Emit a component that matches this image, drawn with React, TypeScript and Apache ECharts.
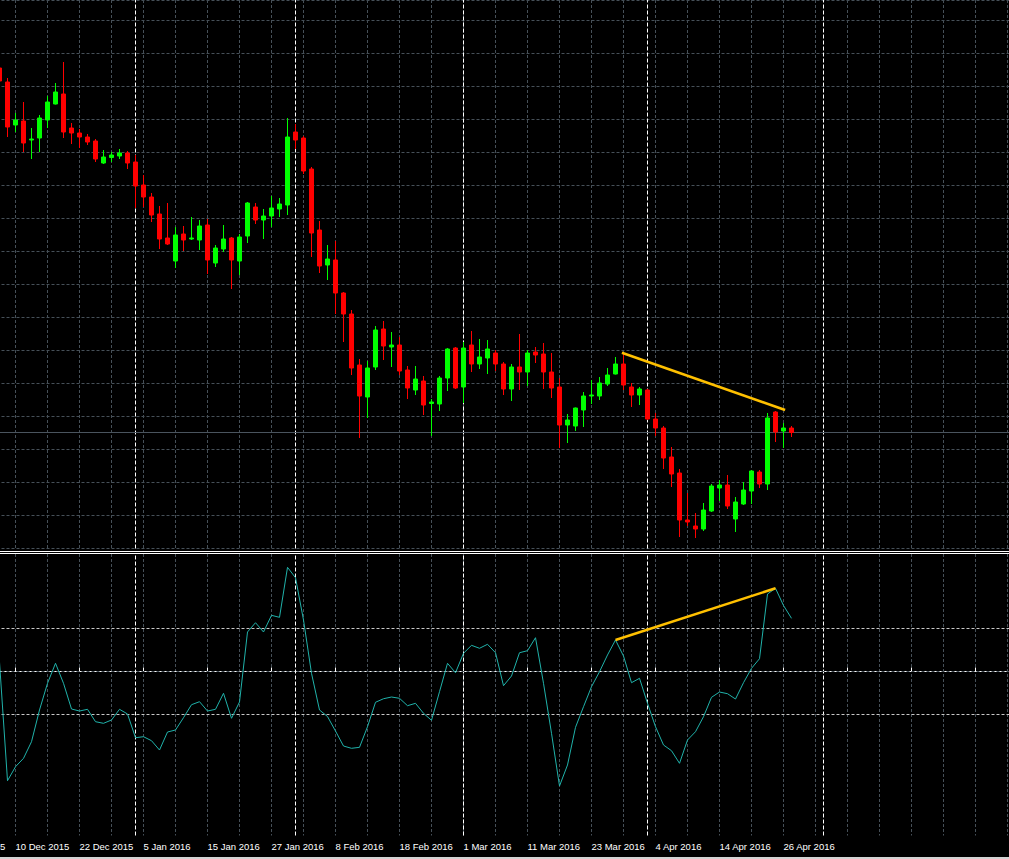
import { useEffect, useRef } from 'react';
import * as echarts from 'echarts';

// Trading days, first entry sits 8 bars left of "10 Dec 2015" (off-screen)
const dates: string[] = [
  '30 Nov 2015', '1 Dec 2015', '2 Dec 2015', '3 Dec 2015', '4 Dec 2015', '7 Dec 2015', '8 Dec 2015', '9 Dec 2015',
  '10 Dec 2015', '11 Dec 2015', '14 Dec 2015', '15 Dec 2015', '16 Dec 2015', '17 Dec 2015', '18 Dec 2015', '21 Dec 2015',
  '22 Dec 2015', '23 Dec 2015', '24 Dec 2015', '28 Dec 2015', '29 Dec 2015', '30 Dec 2015', '31 Dec 2015', '4 Jan 2016',
  '5 Jan 2016', '6 Jan 2016', '7 Jan 2016', '8 Jan 2016', '11 Jan 2016', '12 Jan 2016', '13 Jan 2016', '14 Jan 2016',
  '15 Jan 2016', '18 Jan 2016', '19 Jan 2016', '20 Jan 2016', '21 Jan 2016', '22 Jan 2016', '25 Jan 2016', '26 Jan 2016',
  '27 Jan 2016', '28 Jan 2016', '29 Jan 2016', '1 Feb 2016', '2 Feb 2016', '3 Feb 2016', '4 Feb 2016', '5 Feb 2016',
  '8 Feb 2016', '9 Feb 2016', '10 Feb 2016', '11 Feb 2016', '12 Feb 2016', '15 Feb 2016', '16 Feb 2016', '17 Feb 2016',
  '18 Feb 2016', '19 Feb 2016', '22 Feb 2016', '23 Feb 2016', '24 Feb 2016', '25 Feb 2016', '26 Feb 2016', '29 Feb 2016',
  '1 Mar 2016', '2 Mar 2016', '3 Mar 2016', '4 Mar 2016', '7 Mar 2016', '8 Mar 2016', '9 Mar 2016', '10 Mar 2016',
  '11 Mar 2016', '14 Mar 2016', '15 Mar 2016', '16 Mar 2016', '17 Mar 2016', '18 Mar 2016', '21 Mar 2016', '22 Mar 2016',
  '23 Mar 2016', '24 Mar 2016', '25 Mar 2016', '28 Mar 2016', '29 Mar 2016', '30 Mar 2016', '31 Mar 2016', '1 Apr 2016',
  '4 Apr 2016', '5 Apr 2016', '6 Apr 2016', '7 Apr 2016', '8 Apr 2016', '11 Apr 2016', '12 Apr 2016', '13 Apr 2016',
  '14 Apr 2016', '15 Apr 2016', '18 Apr 2016', '19 Apr 2016', '20 Apr 2016', '21 Apr 2016', '22 Apr 2016', '25 Apr 2016',
  '26 Apr 2016', '27 Apr 2016',
];
const FUTURE_SLOTS = 28; // empty space right of the last bar
const FIRST_K = -8; // bar number of dates[0] (10 Dec 2015 = bar 0)
const LAST_K = 125;
const CANDLE_START_K = -2; // first bar with visible data (8 Dec 2015)

const opens = [
  123.315, 122.895, 121.605, 121.725, 121.155, 121.215, 121.755, 122.235, 122.535, 121.515,
  121.365, 121.245, 121.125, 120.465, 120.63, 120.675, 120.765, 120.495, 119.805, 119.445,
  118.935, 118.215, 117.525, 118.335, 118.185, 118.155, 118.605, 117.465, 117.885, 118.215,
  117.525, 118.275, 119.145, 118.755, 118.875, 119.085, 119.205, 121.395, 121.215, 120.285,
  118.455, 117.405, 117.555, 116.565, 115.935, 114.405, 113.445, 114.345, 115.485, 114.945,
  115.005, 114.255, 113.655, 113.925, 113.25, 113.235, 114.015, 114.915, 113.745, 115.005,
  114.435, 114.615, 114.765, 114.435, 113.685, 114.345, 114.195, 114.795, 114.735, 114.195,
  113.745, 112.605, 112.575, 113.055, 113.475, 113.475, 113.835, 114.135, 114.435, 113.745,
  113.505, 113.655, 112.785, 112.515, 111.645, 111.165, 109.755, 109.575, 109.485, 110.025,
  110.715, 110.805, 109.785, 110.235, 110.625, 111.195, 110.835, 112.995, 112.425, 112.515,
];
const closes = [
  122.925, 121.545, 121.755, 121.065, 121.185, 121.815, 122.295, 122.595, 121.395, 121.365,
  121.245, 121.095, 120.585, 120.645, 120.705, 120.765, 120.465, 119.775, 119.445, 118.905,
  118.185, 118.035, 118.305, 118.155, 118.215, 118.575, 117.555, 117.915, 118.185, 117.555,
  118.245, 119.265, 118.755, 118.875, 119.115, 119.235, 121.245, 121.155, 120.225, 118.365,
  117.375, 117.585, 116.565, 115.935, 114.315, 113.475, 114.315, 115.455, 114.975, 115.005,
  114.225, 113.715, 113.985, 113.205, 113.295, 114.015, 114.885, 113.715, 114.915, 114.435,
  114.645, 114.885, 114.435, 113.685, 114.345, 114.195, 114.765, 114.705, 114.195, 113.715,
  112.605, 112.755, 113.115, 113.475, 113.505, 113.865, 114.105, 114.435, 113.805, 113.505,
  113.685, 112.785, 112.515, 111.615, 111.135, 109.755, 109.695, 109.485, 110.055, 110.775,
  110.805, 110.175, 110.295, 110.655, 111.225, 110.835, 112.815, 112.395, 112.515, 112.38,
];
const lows = [
  122.865, 121.245, 121.395, 120.795, 120.585, 120.795, 121.515, 122.22, 121.215, 121.035,
  120.915, 121.005, 120.495, 120.435, 120.495, 120.585, 120.285, 119.115, 119.145, 118.695,
  117.885, 118.005, 117.315, 117.825, 118.155, 117.855, 117.135, 117.345, 117.795, 116.685,
  117.105, 118.065, 118.635, 118.185, 118.545, 118.845, 118.905, 120.885, 120.135, 117.645,
  117.165, 116.955, 115.935, 115.095, 114.105, 112.215, 112.815, 114.255, 114.555, 114.345,
  114.105, 113.385, 113.505, 112.905, 112.275, 113.025, 113.625, 113.685, 113.265, 114.195,
  114.285, 114.135, 114.225, 113.505, 113.325, 113.655, 113.775, 114.465, 113.685, 113.415,
  111.915, 112.065, 112.425, 112.545, 113.235, 113.355, 113.775, 114.12, 113.655, 113.145,
  113.205, 112.755, 112.275, 111.285, 110.745, 109.245, 109.575, 109.215, 109.425, 109.995,
  110.325, 110.085, 109.395, 110.205, 110.235, 110.715, 110.655, 112.095, 111.915, 112.245,
];
const highs = [
  123.375, 123.015, 121.965, 122.295, 121.515, 121.905, 122.475, 122.865, 123.495, 121.665,
  121.485, 121.335, 121.185, 120.855, 120.795, 120.885, 120.825, 120.705, 120.105, 119.565,
  119.175, 119.265, 118.545, 118.575, 118.845, 118.755, 118.785, 118.005, 118.605, 118.245,
  118.335, 119.295, 119.265, 119.085, 119.475, 119.415, 121.815, 121.635, 121.275, 120.345,
  118.725, 118.005, 118.125, 116.595, 116.055, 114.585, 114.525, 115.575, 115.725, 115.395,
  115.245, 114.375, 114.375, 114.075, 113.385, 114.075, 114.915, 114.945, 115.095, 115.425,
  115.185, 115.155, 114.855, 114.495, 114.435, 115.335, 114.855, 114.945, 115.065, 114.765,
  114.015, 112.935, 113.13, 113.595, 113.955, 114.045, 114.315, 114.645, 114.765, 113.865,
  113.745, 113.685, 112.965, 112.575, 111.945, 111.285, 110.565, 109.965, 110.265, 110.835,
  110.955, 111.105, 110.445, 110.895, 111.255, 111.255, 112.965, 113.025, 112.665, 112.575,
];
// Oscillator (CCI-like) from bar -2 to bar 97
const oscillator = [
  22.1, -254.0, -221.4, -201.9, -163.3, -89.5, -27.4, 19.1, -27.4, -87.2,
  -91.9, -87.9, -116.7, -120.5, -112.8, -87.9, -98.8, -154.0, -151.6, -160.9,
  -182.6, -140.7, -136.0, -107.4, -77.2, -70.2, -91.9, -87.9, -50.7, -108.8,
  -70.9, 91.9, 113.5, 91.9, 130.7, 126.0, 242.3, 218.1, 119.8, -4.2,
  -89.5, -104.7, -138.4, -173.3, -178.6, -176.3, -128.4, -71.6, -63.3, -59.3,
  -62.3, -79.5, -74.0, -97.2, -113.5, -47.0, 19.1, -2.8, 42.3, 60.9,
  54.0, 63.3, 43.7, -33.0, -10.5, 43.7, 48.4, 78.6, -27.4, -143.7,
  -266.3, -217.4, -129.8, -81.9, -35.3, -0.5, 38.4, 73.3, 36.0, -26.0,
  -15.8, -74.0, -128.4, -170.9, -184.2, -213.5, -159.3, -140.0, -105.1, -60.0,
  -47.7, -51.6, -64.0, -26.0, 7.4, 29.8, 180.2, 193.5, 153.5, 123.7,
];
const oscLevels = [100, -100];
const oscZero = 0;
const monthSeparatorBars = [15, 35, 56, 79, 101];
const priceTrend: [number, number][] = [[75.8, 114.774], [96.2, 113.055]];
const oscTrend: [number, number][] = [[75, 73.3], [95, 193.5]];
const bidPrice = 112.38;

const GRID = '#465058';
const GOLD = '#ffc000';

export default function App() {
  const ref = useRef<HTMLDivElement>(null);
  useEffect(() => {
    const chart = echarts.init(ref.current!, null, { renderer: 'svg' });
    const categories = [...dates, ...Array(FUTURE_SLOTS).fill('')];
    const pad = CANDLE_START_K - FIRST_K;
    const candleData: any[] = categories.map((_, i) => {
      const j = i - pad;
      if (j < 0 || j >= opens.length) return '-';
      return [opens[j], closes[j], lows[j], highs[j]];
    });
    const oscData: any[] = categories.map((_, i) => {
      const j = i - pad;
      if (j < 0 || j >= oscillator.length) return '-';
      return oscillator[j];
    });
    const barsSpan = LAST_K - FIRST_K;
    const left = 15.5 + 8 * FIRST_K;
    const width = 8 * barsSpan;
    const dash = { color: GRID, type: [3, 2] as any, width: 1 };
    const sepLine = {
      silent: true, symbol: ['none', 'none'], z: 1, label: { show: false },
      lineStyle: { color: '#ffffff', type: [4, 2] as any, width: 1 },
      emphasis: { disabled: true },
      data: monthSeparatorBars.map((k) => ({ xAxis: k })),
    };
    const option: any = {
      animation: false,
      backgroundColor: '#000000',
      grid: [
        { left, width, top: 0, height: 548.5, containLabel: false, outerBoundsMode: 'none' },
        { left, width, top: 554, height: 281.5, containLabel: false, outerBoundsMode: 'none' },
      ],
      xAxis: [
        {
          type: 'category', gridIndex: 0, data: categories, boundaryGap: false,
          axisLine: { show: false }, axisTick: { show: false }, axisLabel: { show: false },
          splitLine: { show: true, interval: 3, lineStyle: dash },
        },
        {
          type: 'category', gridIndex: 1, data: categories, boundaryGap: false,
          axisLine: { show: true, lineStyle: { color: '#ffffff', width: 1 } },
          axisTick: { show: true, inside: true, length: 4, interval: 7, lineStyle: { color: '#ffffff', width: 1 } },
          axisLabel: {
            show: true, interval: 7, align: 'left', margin: 5.5, color: '#ffffff',
            fontFamily: 'Liberation Sans', fontSize: 9.5,
          },
          splitLine: { show: true, interval: 3, lineStyle: dash },
        },
        { type: 'value', gridIndex: 0, min: FIRST_K, max: LAST_K, show: false },
        { type: 'value', gridIndex: 1, min: FIRST_K, max: LAST_K, show: false },
      ],
      yAxis: [
        {
          type: 'value', gridIndex: 0, min: 108.9, max: 125.355, interval: 0.99, position: 'right',
          axisLine: { show: false }, axisTick: { show: false }, axisLabel: { show: false },
          splitLine: { show: true, lineStyle: dash },
        },
        {
          type: 'value', gridIndex: 1, min: -381.4, max: 273.3, position: 'right',
          axisLine: { show: false }, axisTick: { show: false }, axisLabel: { show: false },
          splitLine: { show: false },
        },
      ],
      series: [
        {
          type: 'line', xAxisIndex: 2, yAxisIndex: 0, data: [], silent: true, markLine: sepLine,
        },
        {
          type: 'candlestick', xAxisIndex: 0, yAxisIndex: 0, data: candleData, barWidth: 4, z: 3,
          silent: true,
          itemStyle: {
            color: '#00ff00', color0: '#ff0000', borderColor: '#00ff00', borderColor0: '#ff0000',
            borderWidth: 1,
          },
          markLine: {
            silent: true, symbol: ['none', 'none'], z: 1, label: { show: false },
            lineStyle: { color: '#4a545e', type: 'solid', width: 1 },
            data: [{ yAxis: bidPrice }],
          },
        },
        {
          type: 'line', xAxisIndex: 2, yAxisIndex: 0, data: priceTrend, symbol: 'none', z: 10, silent: true,
          lineStyle: { color: GOLD, width: 2.5 },
        },
        {
          type: 'line', xAxisIndex: 3, yAxisIndex: 1, data: [], silent: true, markLine: sepLine,
        },
        {
          type: 'line', xAxisIndex: 1, yAxisIndex: 1, data: oscData, symbol: 'none', z: 4, silent: true,
          lineStyle: { color: '#20b2aa', width: 1 },
          markLine: {
            silent: true, symbol: ['none', 'none'], z: 1, label: { show: false },
            data: [
              ...oscLevels.map((v) => ({ yAxis: v, lineStyle: { color: '#c8c8c8', type: [3, 2], width: 1 } })),
              { yAxis: oscZero, lineStyle: { color: GRID, type: [3, 2], width: 1 } },
            ],
          },
        },
        {
          type: 'line', xAxisIndex: 3, yAxisIndex: 1, data: oscTrend, symbol: 'none', z: 10, silent: true,
          lineStyle: { color: GOLD, width: 2.5 },
        },
      ],
      graphic: [
        { type: 'line', silent: true, shape: { x1: 0, y1: 551.5, x2: 1009, y2: 551.5 }, style: { stroke: '#ffffff', lineWidth: 1 } },
        { type: 'line', silent: true, shape: { x1: 0, y1: 553.5, x2: 1009, y2: 553.5 }, style: { stroke: '#ffffff', lineWidth: 1 } },
        { type: 'rect', silent: true, shape: { x: 0, y: 857, width: 1009, height: 2 }, style: { fill: '#d4d4d4' } },
      ],
    };
    chart.setOption(option);
    return () => chart.dispose();
  }, []);
  return (
    <div
      ref={ref}
      style={{ position: 'fixed', left: 0, top: 0, width: 1009, height: 859, background: '#000' }}
    />
  );
}
